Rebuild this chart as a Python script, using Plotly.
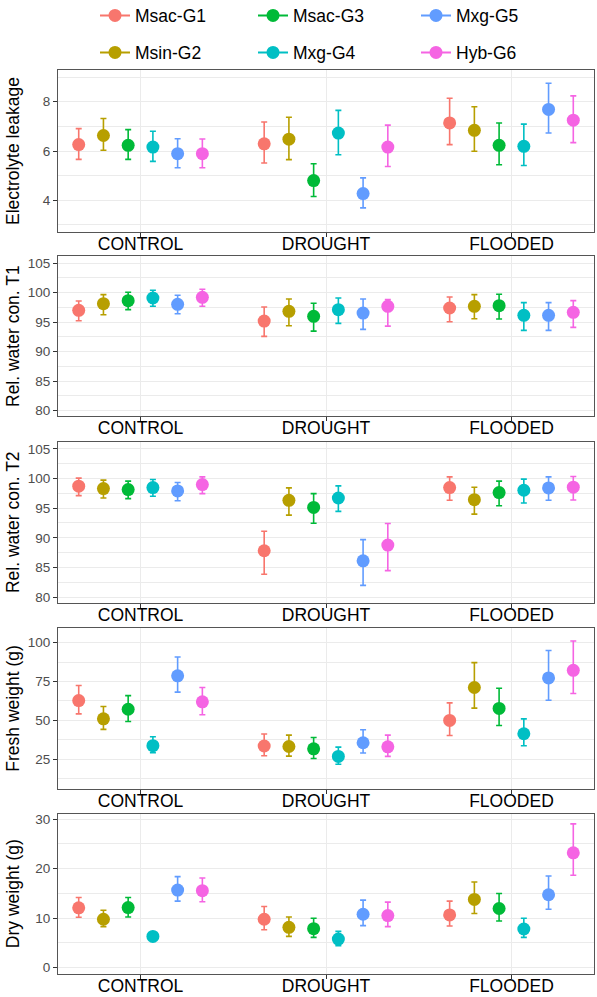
import plotly.graph_objects as go

# ---------------- data ----------------
CONDITIONS = ["CONTROL", "DROUGHT", "FLOODED"]
GENOTYPES = ["Msac-G1", "Msin-G2", "Msac-G3", "Mxg-G4", "Mxg-G5", "Hyb-G6"]
COLORS = ["#F8766D", "#B79F00", "#00BA38", "#00BFC4", "#619CFF", "#F564E3"]

# Electrolyte leakage: mean, lower, upper  (per genotype, per condition)
EL_MEAN = [[6.26, 6.29, 7.14], [6.63, 6.48, 6.84], [6.23, 4.80, 6.23],
           [6.16, 6.73, 6.19], [5.89, 4.27, 7.69], [5.89, 6.16, 7.25]]
EL_LO = [[5.66, 5.51, 6.26], [6.03, 5.65, 5.99], [5.66, 4.15, 5.44],
         [5.58, 5.85, 5.41], [5.32, 3.69, 6.73], [5.32, 5.37, 6.34]]
EL_HI = [[6.91, 7.18, 8.14], [7.32, 7.37, 7.80], [6.87, 5.48, 7.14],
         [6.80, 7.65, 7.09], [6.50, 4.91, 8.75], [6.49, 7.05, 8.24]]

# Relative water content T1
T1_MEAN = [[97.00, 95.18, 97.39], [98.13, 96.83, 97.68], [98.64, 95.98, 97.79],
           [99.09, 97.11, 96.15], [98.02, 96.54, 96.15], [99.20, 97.68, 96.66]]
T1_LO = [[95.24, 92.58, 95.07], [96.26, 94.39, 95.58], [97.11, 93.48, 95.52],
         [97.68, 94.79, 93.60], [96.43, 93.77, 93.60], [97.68, 94.33, 94.11]]
T1_HI = [[98.58, 97.56, 99.26], [99.66, 98.92, 99.66], [100.06, 98.19, 99.72],
         [100.40, 99.09, 98.30], [99.55, 98.92, 98.30], [100.57, 98.81, 98.64]]

# Relative water content T2
T2_MEAN = [[98.70, 87.82, 98.47], [98.30, 96.32, 96.43], [98.13, 95.13, 97.62],
           [98.47, 96.71, 98.02], [97.90, 86.12, 98.41], [98.98, 88.78, 98.53]]
T2_LO = [[97.11, 83.85, 96.32], [96.71, 93.82, 93.99], [96.60, 92.46, 95.41],
         [97.00, 94.45, 95.86], [96.26, 81.98, 96.32], [97.45, 84.48, 96.37]]
T2_HI = [[100.06, 91.10, 100.28], [99.72, 98.41, 98.53], [99.55, 97.45, 99.55],
         [99.83, 98.75, 99.89], [99.32, 89.69, 100.28], [100.28, 92.41, 100.34]]

# Fresh weight (g)
FW_MEAN = [[62.7, 33.4, 49.9], [50.9, 33.1, 71.1], [57.1, 31.6, 57.6],
           [33.6, 26.7, 41.3], [78.6, 35.5, 77.3], [61.9, 32.9, 82.2]]
FW_LO = [[54.1, 27.1, 40.2], [44.1, 26.9, 57.8], [49.2, 25.4, 46.6],
         [29.1, 21.6, 33.6], [68.1, 28.9, 62.9], [53.5, 26.7, 67.2]]
FW_HI = [[72.4, 41.1, 61.2], [58.9, 40.4, 87.1], [65.9, 38.9, 70.6],
         [39.4, 32.7, 50.9], [90.8, 43.9, 94.9], [71.1, 40.4, 101.1]]

# Dry weight (g)
DW_MEAN = [[12.08, 9.78, 10.66], [9.78, 8.15, 13.78], [12.15, 7.88, 11.95],
           [6.31, 5.77, 7.81], [15.68, 10.79, 14.73], [15.55, 10.52, 23.22]]
DW_LO = [[10.18, 7.67, 8.42], [8.28, 6.31, 10.93], [10.25, 6.11, 9.44],
         [5.90, 4.41, 6.11], [13.44, 8.49, 11.81], [13.31, 8.28, 18.67]]
DW_HI = [[14.19, 12.36, 13.44], [11.61, 10.25, 17.31], [14.19, 9.98, 15.00],
         [6.70, 7.33, 9.98], [18.40, 13.65, 18.53], [18.13, 13.24, 29.06]]

Y_TITLES = ["Electrolyte leakage", "Rel. water con. T1", "Rel. water con. T2",
            "Fresh weight (g)", "Dry weight (g)"]

# ---------------- layout geometry ----------------
W, H = 597, 997
FONT = "Liberation Sans, Arial, Helvetica, sans-serif"


def px_x(p):
    return p / W


def px_y(p):
    return 1 - p / H


panels = [
    (EL_MEAN, EL_LO, EL_HI, [2.71, 9.29], 2, 1),
    (T1_MEAN, T1_LO, T1_HI, [79.1, 106.2], 5, 2.5),
    (T2_MEAN, T2_LO, T2_HI, [79.1, 106.2], 5, 2.5),
    (FW_MEAN, FW_LO, FW_HI, [5.7, 109.25], 25, 12.5),
    (DW_MEAN, DW_LO, DW_HI, [-1.29, 31.0], 10, 5),
]
panel_px = [(70, 232), (256, 416), (441.7, 602.5), (628.3, 789), (814.3, 974)]
x_dom = [px_x(58), px_x(594)]

fig = go.Figure()
layout = dict(
    width=W, height=H,
    margin=dict(l=0, r=0, t=0, b=0, autoexpand=False),
    paper_bgcolor="white", plot_bgcolor="white",
    font=dict(family=FONT, size=17.5, color="black"),
    scattermode="group", scattergap=0.2,
    annotations=[],
)

for k, (mean, lo, hi, yr, dt, mdt) in enumerate(panels):
    sfx = "" if k == 0 else str(k + 1)
    xa, ya = "x" + sfx, "y" + sfx
    for g, name in enumerate(GENOTYPES):
        m = mean[g]
        fig.add_trace(go.Scatter(
            x=CONDITIONS, y=m, mode="markers", name=name,
            offsetgroup=name, showlegend=False,
            marker=dict(color=COLORS[g], size=13, line=dict(width=0)),
            error_y=dict(type="data", symmetric=False,
                         array=[hi[g][i] - m[i] for i in range(3)],
                         arrayminus=[m[i] - lo[g][i] for i in range(3)],
                         color=COLORS[g], thickness=1.6, width=3),
            xaxis=xa, yaxis=ya,
        ))
    top, bot = panel_px[k]
    layout["xaxis" + sfx] = dict(
        domain=x_dom, anchor=ya, type="category",
        categoryorder="array", categoryarray=CONDITIONS,
        range=[-0.445, 2.445],
        showgrid=True, gridcolor="#EBEBEB", gridwidth=1.2,
        showline=True, mirror=True, linecolor="#555555", linewidth=1,
        ticks="outside", ticklen=4, tickcolor="#333333", tickwidth=1,
        ticklabelstandoff=-8,
        tickfont=dict(size=17.5, color="black", family=FONT),
        zeroline=False, automargin=False, fixedrange=True,
    )
    layout["yaxis" + sfx] = dict(
        domain=[px_y(bot), px_y(top)], anchor=xa,
        range=yr, tick0=0, dtick=dt,
        minor=dict(dtick=mdt, tick0=0, showgrid=True,
                   gridcolor="#EBEBEB", gridwidth=0.7),
        showgrid=True, gridcolor="#EBEBEB", gridwidth=1.2,
        showline=True, mirror=True, linecolor="#555555", linewidth=1,
        ticks="outside", ticklen=4, tickcolor="#333333", tickwidth=1,
        tickfont=dict(size=13.5, color="#4D4D4D", family=FONT),
        zeroline=False, automargin=False, fixedrange=True,
    )
    layout["annotations"].append(dict(
        text=Y_TITLES[k], textangle=-90, showarrow=False,
        xref="paper", yref="paper", x=px_x(13), y=px_y((top + bot) / 2),
        xanchor="center", yanchor="middle",
        font=dict(size=17.5, color="black", family=FONT),
    ))

# legend: 3 columns x 2 rows (column-major, like ggplot)
leg_x = [95, 253, 416]
leg_y = [15.5, 52.5]
for g, name in enumerate(GENOTYPES):
    col, row = g // 2, g % 2
    lname = "legend" if g == 0 else "legend" + str(g + 1)
    fig.add_trace(go.Scatter(
        x=[None], y=[None], mode="lines+markers", name=name,
        marker=dict(color=COLORS[g], size=13),
        line=dict(color=COLORS[g], width=2),
        legend=lname, showlegend=True, xaxis="x", yaxis="y",
    ))
    layout[lname] = dict(
        x=px_x(leg_x[col]), y=px_y(leg_y[row]),
        xanchor="left", yanchor="middle",
        bgcolor="rgba(0,0,0,0)", borderwidth=0,
        font=dict(size=17.5, color="black", family=FONT),
    )

fig.update_layout(**layout)
fig.write_html("out.html", config={"displayModeBar": False},
               post_script="document.body.style.margin='0px';")
